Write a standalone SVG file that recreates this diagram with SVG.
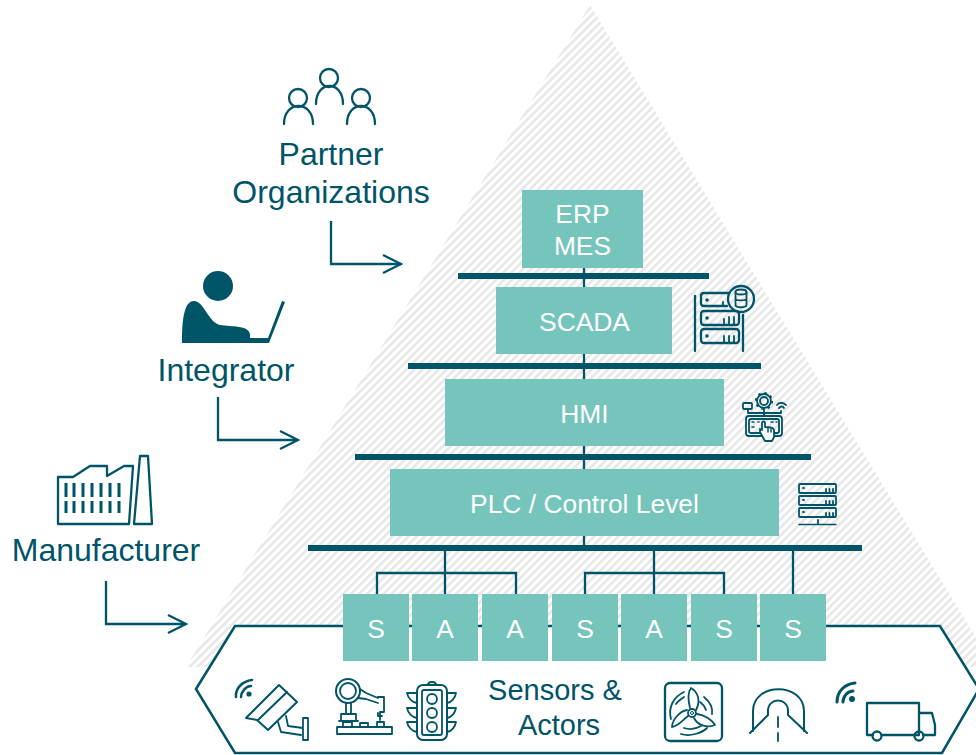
<svg xmlns="http://www.w3.org/2000/svg" width="976" height="755" viewBox="0 0 976 755">
<style>
text{font-family:"Liberation Sans",Arial,sans-serif;text-anchor:middle}
.lbl{font-size:32px;fill:#005467}
.sa{font-size:29px;fill:#005467}
.box{fill:#75C5BC}
.bt{font-size:26.4px;fill:#fff}
.bar{fill:#005467}
.ln{fill:none;stroke:#005467;stroke-width:2.300}
.ic{fill:none;stroke:#005467;stroke-width:2.300;stroke-linejoin:round;stroke-linecap:round}
.ict{fill:none;stroke:#005467;stroke-width:1.800;stroke-linejoin:round;stroke-linecap:round}
.fill{fill:#005467}
</style>
<defs>
<pattern id="h" width="5.700" height="5.700" patternUnits="userSpaceOnUse" patternTransform="rotate(-45)">
<rect width="5.700" height="2.800" fill="#e8e8e8"/>
</pattern>
<marker id="a" markerWidth="22" markerHeight="22" refX="20" refY="11" orient="auto" markerUnits="userSpaceOnUse">
<path d="M2 2L20 11L2 20" fill="none" stroke="#005467" stroke-width="2.300"/>
</marker>
</defs>
<polygon id="pyramid" points="590,5 186,667 994,667" fill="url(#h)"/>
<g id="hexagon"><polygon points="196,689 235,626 940,626 979,689 942,753 235,753" fill="#fff" stroke="#005467" stroke-width="2.500"/></g>
<g id="connectors">
<path class="ln" d="M331 221V264H401" marker-end="url(#a)"/>
<path class="ln" d="M218 397V440H298" marker-end="url(#a)"/>
<path class="ln" d="M106 581V624H186" marker-end="url(#a)"/>
<path class="ln" d="M584 268V548"/>
<path class="ln" d="M445 551V594M377 594V573H516V594M654 551V594M585 594V573H724V594M793 551V594"/>
<rect class="bar" x="458" y="273" width="251" height="6"/>
<rect class="bar" x="408" y="363" width="353" height="6"/>
<rect class="bar" x="355" y="454" width="456" height="6"/>
<rect class="bar" x="308" y="545" width="554" height="6"/>
</g>
<g id="erp"><rect class="box" x="522" y="190" width="121" height="78"/><text class="bt" x="582.500" y="223">ERP</text><text class="bt" x="582.500" y="255">MES</text></g>
<g id="scada"><rect class="box" x="496" y="287" width="176" height="67"/><text class="bt" x="584.500" y="331">SCADA</text></g>
<g id="hmi"><rect class="box" x="445" y="379" width="279" height="67"/><text class="bt" x="584.500" y="423">HMI</text></g>
<g id="plc"><rect class="box" x="390" y="469" width="389" height="67"/><text class="bt" x="584.500" y="513">PLC / Control Level</text></g>
<g id="s1"><rect class="box" x="343" y="594" width="66" height="67"/><text class="bt" x="376" y="638">S</text></g>
<g id="a1"><rect class="box" x="412" y="594" width="66" height="67"/><text class="bt" x="445" y="638">A</text></g>
<g id="a2"><rect class="box" x="482" y="594" width="66" height="67"/><text class="bt" x="515" y="638">A</text></g>
<g id="s2"><rect class="box" x="552" y="594" width="66" height="67"/><text class="bt" x="585" y="638">S</text></g>
<g id="a3"><rect class="box" x="621" y="594" width="66" height="67"/><text class="bt" x="654" y="638">A</text></g>
<g id="s3"><rect class="box" x="691" y="594" width="66" height="67"/><text class="bt" x="724" y="638">S</text></g>
<g id="s4"><rect class="box" x="760" y="594" width="66" height="67"/><text class="bt" x="793" y="638">S</text></g>
<g id="sensors-label"><text class="sa" x="555" y="700">Sensors &amp;</text><text class="sa" x="559" y="735">Actors</text></g>
<g id="partner"><text class="lbl" x="331" y="165">Partner</text><text class="lbl" x="331" y="203">Organizations</text>
<g class="ic"><circle cx="329" cy="78" r="9"/><path d="M316 104C316 80 343 80 343 104"/><circle cx="298" cy="98" r="9"/><path d="M284 124C284 100 313 100 313 124"/><circle cx="361" cy="98" r="9"/><path d="M347 124C347 100 375 100 375 124"/></g></g>
<g id="integrator"><text class="lbl" x="226" y="381">Integrator</text>
<circle class="fill" cx="218" cy="286" r="15"/>
<path class="fill" d="M182 343C182 320 184 301 194 301C204 301 208 322 220 325C232 327 248 325 250 334V338H268L282 301L285 302L269 343Z"/></g>
<g id="manufacturer"><text class="lbl" x="106" y="561">Manufacturer</text>
<path class="ic" d="M58 524H129L133 466H124L107 476V466H90L73 477H58Z"/><path class="ic" d="M134 524L140 456H148L152 524Z"/>
<path d="M66 483V497M74 483V497M83 483V497M92 483V497M101 483V497M110 483V497M119 483V497M66 501V513M74 501V513M83 501V513M92 501V513M101 501V513M110 501V513M119 501V513" stroke="#005467" stroke-width="3" fill="none"/></g>
<g id="scada-icon" class="ic"><path d="M695 296V351M743 315V351"/><path d="M729 293H704Q701 293 701 296V303Q701 306 704 306H727"/><rect x="701" y="311" width="38" height="14" rx="3"/><rect x="701" y="329" width="38" height="14" rx="3"/><path d="M723 306V302M724 324V319M729 324V317M734 324V317M724 342V336M729 342V336M734 342V336" stroke-width="1.800"/><circle cx="741" cy="299" r="13"/><ellipse cx="741" cy="292" rx="5.500" ry="2.500" class="ict" stroke-width="1.200"/><path class="ict" d="M735.500 292V305C735.500 308 746.500 308 746.500 305V292M735.500 298.500C735.500 301 746.500 301 746.500 298.500" stroke-width="1.200"/><circle class="fill" cx="707" cy="300" r="1.800" stroke="none"/><circle class="fill" cx="707" cy="318" r="1.800" stroke="none"/><circle class="fill" cx="707" cy="336" r="1.800" stroke="none"/></g>
<g id="hmi-icon" class="ict"><circle cx="764" cy="401" r="4"/><circle cx="764" cy="401" r="7"/><circle cx="764" cy="401" r="8" stroke-dasharray="2.500 3.800" stroke-width="2.200" stroke-linecap="butt"/><path d="M764 409V416M748 409V413H781V411"/><rect x="743" y="403" width="9" height="6" rx="1"/><path d="M777 405C779 402 783 402 786 405M779 408C781 406 783 406 784 408"/><rect x="746" y="416" width="36" height="20" rx="3"/><rect x="749" y="419" width="30" height="14" rx="2"/><path d="M765 441L760 432V429L762 430V423C762 421 765 421 765 423V427C769 427 774 428 774 430V437L772 441Z" fill="#fff"/><path d="M768 428V432M771 429V432M752 422H754M758 422H759M771 422H773M776 422H777M752 427H754" stroke-width="1.500"/></g>
<g id="plc-icon" class="ict"><rect x="799" y="484" width="37" height="9" rx="1"/><rect x="799" y="496" width="37" height="9" rx="1"/><rect x="799" y="508" width="37" height="9" rx="1"/><path d="M799 524.500H836" stroke-width="1.500"/><path d="M818 520V524M826 489V492M829.500 489V492M833 489V492M826 501V504M829.500 501V504M833 501V504M826 513V516M829.500 513V516M833 513V516M803 488H804M803 500H804M803 512H804"/></g>
<g id="camera-icon" class="ic"><path d="M246 718L279 685L297 702L268 730L257 720Z" stroke-width="2"/><path d="M258 720L287 692" stroke-width="2"/><path d="M278 722L281 732L301 735M286 716L288 726L303 728M303 718H308V740H303Z" stroke-width="1.800"/><path d="M236 697C235 688 243 681 252 680M241 697C241 692 246 686 251 686" stroke-width="2.500"/><circle class="fill" cx="249" cy="694" r="2.600" stroke="none"/></g>
<g id="robot-icon" class="ict"><circle cx="348" cy="691" r="12" stroke-width="2"/><circle cx="348" cy="691" r="8"/><path d="M360 689L366 693L378 698M358 698L366 699L378 703M378 697H384V712H380V716H382H378V713M380 713V720"/><path d="M346 703V713M351 703V713M341 721V714H356V721M337 727H392V734H337ZM343 727V722H352V727M360 727V723H368V727M377 727V722H384V727M339 721H358"/></g>
<g id="traffic-icon" class="ict"><rect x="417" y="685" width="30" height="55" rx="6" stroke-width="2"/><rect x="422" y="690" width="20" height="45" rx="2"/><circle cx="432" cy="699" r="5"/><circle cx="432" cy="713" r="5"/><circle cx="432" cy="727" r="5"/><path d="M428 685C428 681 436 681 436 685M417 693H407C408 698 412 702 417 703M447 693H456C455 698 452 702 447 703M417 708H407C408 713 412 717 417 718M447 708H456C455 713 452 717 447 718M417 722H407C408 727 412 731 417 732M447 722H456C455 727 452 731 447 732"/></g>
<g id="fan-icon" class="ic"><rect x="665" y="683" width="57" height="58" rx="5"/><circle cx="692" cy="713" r="4" stroke-width="1.800"/><circle cx="692" cy="713" r="1.500" stroke-width="1"/><path class="ict" d="M690 708C688 700 688 692 691 688C698 692 701 701 696 710M697 714C705 715 712 720 715 725C708 728 698 726 694 718M688 716C682 721 677 727 672 727C672 720 680 711 687 710"/><path class="ict" d="M671 719C668 708 673 697 684 692M676 704C678 701 681 699 684 697M681 734C690 737 702 733 707 728M684 728C690 730 696 729 701 726M704 697C710 702 713 708 712 714M700 702C703 704 705 707 706 710"/></g>
<g id="tunnel-icon" class="ict"><path d="M753 731V711C753 682 804 682 804 711V731" stroke-width="2"/><path d="M750 733L768 715V711C768 697 788 697 788 711V715L807 733" stroke-width="2"/><path d="M778 717V727M778 733V741" stroke-width="1.800"/></g>
<g id="truck-icon" class="ic"><path d="M873 735H867V703H919V735H883M923 735H935V725L932 713H919M889 735H915"/><circle cx="877" cy="736" r="4.500"/><circle cx="919" cy="736" r="4.500"/><path d="M837 702C837 691 845 684 855 683M843 702C843 696 848 691 853 691" stroke-width="3"/><circle class="fill" cx="852" cy="699" r="3" stroke="none"/></g>
</svg>
